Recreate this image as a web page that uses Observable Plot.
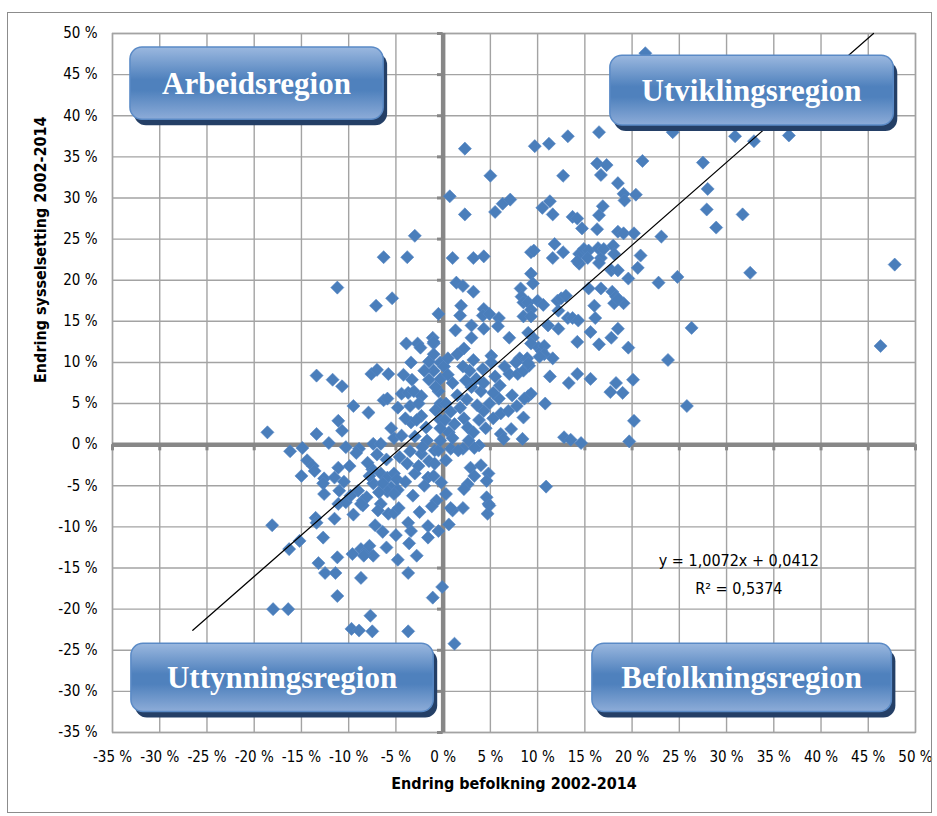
<!DOCTYPE html>
<html><head><meta charset="utf-8">
<script src="https://cdn.jsdelivr.net/npm/d3@7"></script>
<script src="https://cdn.jsdelivr.net/npm/@observablehq/plot@0.6"></script>
<style>
body{margin:0;background:#fff;}
#chart{position:relative;width:937px;height:816px;}
</style></head><body><div id="chart"></div>
<script>
// ---------- data (percent) ----------
const xTicks = [-35,-30,-25,-20,-15,-10,-5,0,5,10,15,20,25,30,35,40,45,50];
const yTicks = [-35,-30,-25,-20,-15,-10,-5,0,5,10,15,20,25,30,35,40,45,50];
const xTitle = "Endring befolkning 2002-2014";
const yTitle = "Endring sysselsetting 2002-2014";
const regionNames = ["Arbeidsregion","Utviklingsregion","Uttynningsregion","Befolkningsregion"];
const trendSlope = 1.0072, trendIntercept = 0.0412;
const trendXStart = -26.5;
const trendLabels = ["y = 1,0072x + 0,0412", "R² = 0,5374"];

// [endring befolkning %, endring sysselsetting %]
const points = [
[21.4,47.6],[2.3,36.0],[9.7,36.3],[11.2,36.6],[13.2,37.5],[16.5,38.0],[21.1,34.5],[5.0,32.7],[12.7,32.7],[16.3,34.2],[17.3,34.0],[16.7,32.8],[18.5,31.8],[19.1,30.5],[20.4,30.4],[19.2,29.7],[0.7,30.2],[2.3,28.0],[5.5,28.3],[6.3,29.3],[7.1,29.8],[10.5,28.8],[11.3,29.6],[11.6,28.0],[13.7,27.7],[14.2,27.5],[16.9,29.0],[16.5,27.9],
[30.9,37.5],[32.9,36.9],[36.6,37.6],[24.3,38.0],[27.5,34.3],[28.0,31.1],[27.9,28.6],[31.7,28.0],[28.9,26.4],[23.1,25.3],[20.9,23.0],[22.8,19.7],[24.8,20.4],[32.5,20.9],[47.8,21.9],[26.3,14.2],[23.8,10.3],[46.3,12.0],[25.8,4.7],
[-3.0,25.4],[-6.3,22.8],[-3.8,22.8],[-11.2,19.1],[-5.4,17.8],[-7.1,16.9],[-0.5,15.9],[-13.4,8.4],[-11.7,7.9],[-10.7,7.1],[-7.6,8.6],[-7.0,9.1],[-5.8,8.6],[-3.9,12.3],[-2.7,12.3],[-2.4,11.8],[-1.1,13.0],[-1.0,12.3],[-3.4,10.0],[-1.5,10.1],[-3.3,7.9],[-1.5,7.9],[-9.5,4.7],[-7.9,3.9],[-6.3,5.4],[-5.9,5.6],[-4.8,4.5],[-4.4,6.2],[-3.7,6.3],[-3.1,6.5],[-2.3,5.9],[-3.5,4.7],[-2.6,5.0],[-18.6,1.5],[-13.4,1.3],[-11.1,2.9],[-10.7,1.7],[-2.3,3.5],[-1.8,2.1],[-3.4,2.7],[-12.1,0.2],[-7.4,0.1],[-6.6,0.1],[-5.2,0.8],[-4.4,1.1],[-16.2,-0.8],[-14.9,-0.4],[-8.9,-0.5],
[-0.3,8.0],[-0.3,10.0],[-0.3,5.0],[-0.3,3.0],
[-14.4,-1.9],[-13.8,-2.6],[-13.6,-3.2],[-15.0,-3.8],[-12.6,-4.1],[-12.7,-4.7],[-11.1,-2.8],[-11.5,-4.0],[-9.9,-2.6],[-12.6,-6.0],[-11.0,-5.6],[-11.1,-7.2],[-10.3,-7.0],[-9.0,-5.6],[-8.5,-6.8],[-8.5,-7.4],[-8.1,-6.4],[-9.8,-6.2],[-13.5,-8.9],[-13.4,-9.5],[-11.5,-9.0],[-18.1,-9.8],[-12.7,-11.3],[-15.2,-11.7],[-16.3,-12.7],[-13.2,-14.4],[-11.2,-13.7],[-9.6,-13.3],[-8.7,-12.7],[-8.1,-12.9],[-7.8,-12.3],[-7.4,-13.5],[-8.4,-13.5],[-12.5,-15.6],[-11.4,-15.6],[-8.7,-16.2],[-11.2,-18.4],[-18.0,-20.0],[-16.4,-20.0],[-7.7,-20.8],[-9.7,-22.4],[-8.9,-22.6],[-7.5,-22.7],[-3.7,-22.7],[-3.7,-15.6],[-1.1,-18.6],[-0.1,-17.3],[-6.4,-10.6],[-3.7,-9.5],[-3.4,-10.5],[-3.6,-12.0],[-1.6,-9.9],[-1.6,-11.3],[-0.5,-10.5],[-6.6,-7.2],[-5.8,-8.4],[-5.2,-8.3],[-4.7,-7.7],[-6.9,-8.0],[-8.7,-7.2],
[-7.5,-3.0],[-7.4,-4.7],[-6.6,-3.5],[-5.9,-4.0],[-5.2,-3.5],[-5.5,-5.2],[-4.8,-5.5],[-5.9,-5.7],[-6.4,-4.7],[-4.9,-4.2],[-5.2,-6.0],
[-3.0,-3.5],[-1.6,-4.0],[-2.6,-2.6],[-2.3,-1.1],[-1.5,-2.0],[-0.9,-0.7],[-0.7,-6.8],[0.6,-9.7],
[1.0,-8.0],[2.1,-7.7],[4.8,-7.2],[4.7,-8.4],[1.2,-24.2],
[4.6,-6.4],[4.9,-7.4],[-0.2,-4.6],[0.3,-6.0],[0.8,-7.7],[2.9,-2.8],[4.0,-2.5],[3.3,-3.8],[2.6,-4.8],[2.2,-5.4],[4.8,-3.5],[4.6,-4.4],[10.9,-5.1],
[0.6,1.5],[2.2,3.2],[2.6,2.1],[3.2,1.5],[2.7,0.5],[3.8,-0.1],[3.3,-0.4],[0.8,-0.5],[2.1,-0.5],[1.6,-0.7],[-0.5,-0.7],[0.3,-1.9],[-0.9,-2.3],[-1.0,-3.8],
[7.0,8.6],[7.9,8.6],[8.5,9.0],[9.1,9.6],[9.0,5.9],[9.3,6.2],[11.3,8.3],[13.3,7.5],[14.2,8.6],[15.6,8.0],[17.7,6.4],[18.3,7.5],[19.0,6.3],[20.1,7.9],[10.8,5.0],[20.2,2.9],[12.8,0.9],[13.5,0.6],[14.6,0.2],[19.7,0.4],[8.5,3.3],[7.2,1.9],[6.1,1.3],[6.4,0.7],[8.4,0.7],
[5.9,5.6],[4.9,5.0],[4.3,4.1],[5.3,3.2],[6.1,3.8],[6.9,4.1],[7.8,4.7],[8.6,5.6],
[14.7,26.3],[16.3,26.2],[18.5,25.9],[19.1,25.7],[20.2,25.7],[1.0,22.7],[3.2,22.7],[4.3,22.9],[11.8,24.4],[12.7,23.4],[11.6,22.7],[9.3,23.4],[9.6,23.6],
[14.4,23.2],[14.9,23.8],[15.4,23.6],[16.4,23.9],[16.7,22.7],[17.0,23.8],[18.0,24.2],[18.1,23.2],[14.4,22.0],[15.3,22.7],[14.2,22.3],[16.5,22.1],
[20.6,21.5],[17.8,21.2],[18.5,21.2],[19.6,20.2],[9.3,20.8],[9.5,19.6],[1.4,19.7],[2.1,19.3],[3.2,18.6],
[8.2,19.0],[8.3,18.0],[8.5,17.3],[9.0,17.3],[9.3,16.4],[10.0,17.5],[10.6,17.0],
[12.1,17.5],[12.5,17.8],[13.0,18.1],[12.2,16.3],
[15.4,19.0],[16.7,19.0],[17.9,18.6],[18.3,18.0],[18.1,17.2],[19.1,17.2],[18.5,17.7],
[16.0,16.9],[16.1,15.4],[1.9,16.9],[1.8,15.7],[4.3,16.5],[4.2,15.7],[4.9,15.9],[5.9,15.4],[5.8,14.4],
[8.5,15.6],[9.3,15.6],[11.1,14.5],[12.2,14.1],[13.2,15.4],[13.7,15.4],[14.3,15.1],[15.6,13.7],[18.5,14.1],[17.8,13.0],[19.6,11.8],[16.5,12.2],[14.2,12.5],
[1.3,13.9],[3.0,14.5],[3.0,13.0],[4.3,14.1],[7.0,13.0],[9.0,13.6],[9.5,13.0],[9.3,12.3],[10.1,11.8],[10.4,11.4],[10.7,12.0],[10.7,11.0],[10.2,10.7],[11.6,10.5],
[2.2,11.7],[3.2,10.3],[5.1,10.8],[5.1,10.0],[8.1,10.5],[8.9,10.5],[7.7,10.0],[9.0,9.9],
[-1.0,12.5],[-1.0,11.0],[-1.0,9.0],[0.1,9.5],[2.1,9.5],[4.2,9.2],
[0.5,8.5],[1.0,7.5],[1.5,6.0],[0.3,5.0],[0.8,4.0],[1.8,4.5],[2.5,5.5],[3.0,7.0],[3.5,8.0],[4.0,6.5],[0.2,3.0],[1.2,2.5],[3.8,3.0],[4.5,2.0],[1.0,0.8],[-0.3,0.5],[0.5,10.5],[1.5,11.0],[2.8,9.0],[3.6,4.8],[2.4,7.8],[-0.5,6.5],[-0.8,4.2],[-0.3,2.0],[4.3,7.5],[5.3,6.3],[6.0,7.2],[6.5,9.5],[7.3,6.0],[5.5,8.3],
[-4.2,8.5],[-2.0,9.0],[-0.8,7.0],[-2.8,3.0],[-4.0,3.2],[-5.5,2.0],[-3.0,1.0],[-1.7,0.5],[-2.2,-0.3],[-3.5,-0.8],[-4.6,-1.5],[-6.0,-1.8],[-7.0,-1.2],[-8.0,-2.2],[-9.2,-1.0],[-10.3,-0.3],[-3.8,-2.3],[-2.0,-5.0],[-3.2,-6.2],[-1.2,-7.5],[-2.5,-8.2],[-4.0,-4.5],[-6.8,-5.8],[-7.8,-3.8],[-10.5,-4.5],[-9.5,-8.5],[-7.2,-9.8],[-5.0,-11.0],[-6.0,-12.5],[-2.8,-13.5],[-4.8,-14.0]
];

// ---------- layout (not data) ----------
const FONT = "'Liberation Sans Narrow','DejaVu Sans Condensed',sans-serif";
const GRID = "#a3a3a3", AXIS = "#878787", MARK = "#4A7EBB";
// region box placement in data units: [x1, x2, yTop, yBottom]
const regionBoxes = [[-33.1,-6.3,48.3,39.5],[17.7,47.7,47.3,38.8],[-33.0,-1.0,-24.2,-32.5],[15.8,47.5,-24.2,-32.5]];
const trendLabelPos = [[31.3,-14.1],[31.3,-17.5]];

const trend = [trendXStart, (0.5 - trendIntercept) / trendSlope * 100]
  .map(x => ({x, y: trendSlope * x + trendIntercept * 100}));

const plot = Plot.plot({
  width: 937, height: 816,
  marginLeft: 112, marginRight: 22, marginTop: 33, marginBottom: 84,
  style: {fontFamily: FONT, fontSize: "15px", color: "#000", background: "#fff"},
  x: {domain: [-35, 50]},
  y: {domain: [-35, 50]},
  marks: [
    Plot.gridX(xTicks, {stroke: GRID, strokeOpacity: 1, strokeWidth: 1.4}),
    Plot.gridY(yTicks, {stroke: GRID, strokeOpacity: 1, strokeWidth: 1.4}),
    Plot.frame({stroke: GRID, strokeWidth: 1.4}),
    Plot.ruleX([0], {stroke: AXIS, strokeWidth: 4.5}),
    Plot.ruleY([0], {stroke: AXIS, strokeWidth: 4.5}),
    Plot.ruleX(xTicks, {y1: 0, y2: -0.75, stroke: AXIS, strokeWidth: 3}),
    Plot.ruleY(yTicks, {x1: 0, x2: -0.6, stroke: AXIS, strokeWidth: 3}),
    Plot.axisX(xTicks, {tickSize: 0, tickPadding: 19, tickFormat: d => d + " %", fontSize: 15, label: null}),
    Plot.axisY(yTicks, {tickSize: 0, tickPadding: 15, tickFormat: d => d + " %", fontSize: 15, label: null}),
    Plot.text([xTitle], {frameAnchor: "bottom", dy: 56, fontWeight: "bold", fontSize: 16}),
    Plot.text([yTitle], {frameAnchor: "left", dx: -72, rotate: -90, fontWeight: "bold", fontSize: 16}),
    Plot.dot(points, {x: d => d[0], y: d => d[1], symbol: "diamond2", r: 5.9, fill: MARK, stroke: "#5587c4", strokeWidth: 0.6}),
    Plot.line(trend, {x: "x", y: "y", stroke: "#000", strokeWidth: 1.2}),
    Plot.text(trendLabels, {x: (d, i) => trendLabelPos[i][0], y: (d, i) => trendLabelPos[i][1], fontSize: 16})
  ]
});
document.getElementById("chart").appendChild(plot);

// region boxes drawn with the plot's own scales
const sx = plot.scale("x"), sy = plot.scale("y");
const svg = d3.select(plot);
const defs = svg.append("defs");
const g = defs.append("linearGradient").attr("id", "boxgrad").attr("x1", 0).attr("y1", 0).attr("x2", 0).attr("y2", 1);
g.append("stop").attr("offset", "0%").attr("stop-color", "#9bb8df");
g.append("stop").attr("offset", "45%").attr("stop-color", "#4f81bd");
g.append("stop").attr("offset", "60%").attr("stop-color", "#4f81bd");
g.append("stop").attr("offset", "100%").attr("stop-color", "#8dacd8");
const layer = svg.append("g");
regionNames.forEach((name, i) => {
  const [x1, x2, yt, yb] = regionBoxes[i];
  const X1 = sx.apply(x1), X2 = sx.apply(x2), Y1 = sy.apply(yt), Y2 = sy.apply(yb);
  layer.append("rect").attr("x", X1 + 4).attr("y", Y1 + 6).attr("width", X2 - X1).attr("height", Y2 - Y1)
    .attr("rx", 12).attr("fill", "#243f66");
  layer.append("rect").attr("x", X1).attr("y", Y1).attr("width", X2 - X1).attr("height", Y2 - Y1)
    .attr("rx", 12).attr("fill", "url(#boxgrad)").attr("stroke", "#5a8ac6").attr("stroke-width", 1.5);
  layer.append("text").attr("x", (X1 + X2) / 2).attr("y", (Y1 + Y2) / 2).attr("dy", "0.35em")
    .attr("text-anchor", "middle").attr("fill", "#fff").attr("font-weight", "bold")
    .attr("font-family", "'Liberation Serif','Times New Roman',serif").attr("font-size", 31)
    .text(name);
});
// outer chart border
svg.append("rect").attr("x", 7.5).attr("y", 12.5).attr("width", 924).attr("height", 800)
  .attr("fill", "none").attr("stroke", "#8c8c8c").attr("stroke-width", 1);
</script></body></html>
